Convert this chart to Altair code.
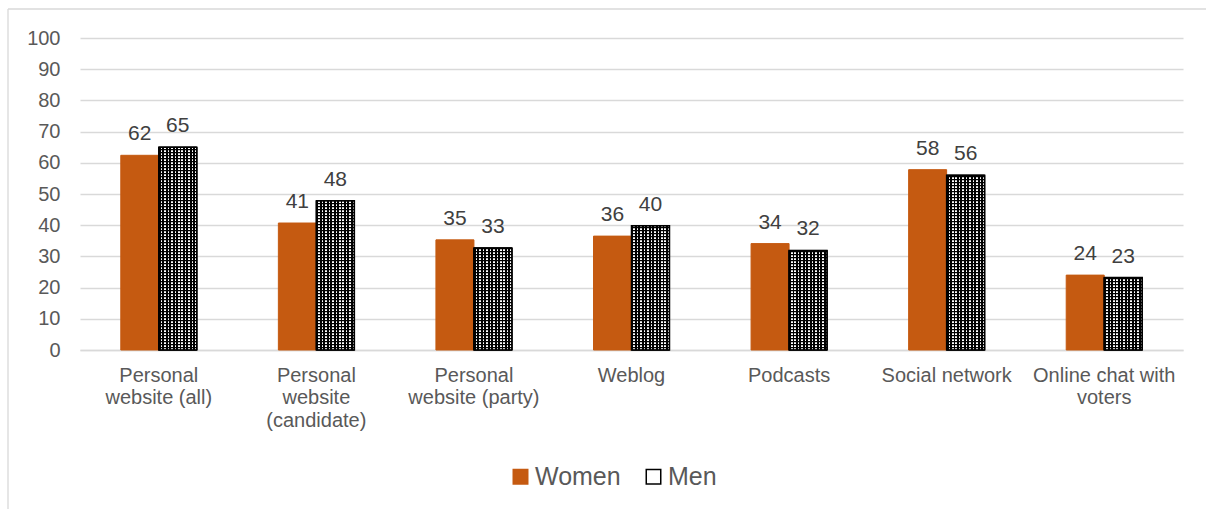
import altair as alt
import pandas as pd

# ---- data ----
categories = [
    "Personal\nwebsite (all)",
    "Personal\nwebsite\n(candidate)",
    "Personal\nwebsite (party)",
    "Weblog",
    "Podcasts",
    "Social network",
    "Online chat with\nvoters",
]
series = ["Women", "Men"]
women = [62.4, 40.7, 35.3, 36.5, 34.1, 57.8, 24.0]
men = [65.0, 47.8, 32.7, 39.8, 31.9, 56.0, 23.2]

ORANGE = "#C55A11"
FONT = "Liberation Sans"

rows = []
for c, w, m in zip(categories, women, men):
    rows.append({"category": c, "series": "Women", "value": w, "label": f"{w:.0f}"})
    rows.append({"category": c, "series": "Men", "value": m, "label": f"{m:.0f}"})
df = pd.DataFrame(rows)

W, H = 1103, 312
PX = H / 100.0  # pixels per unit, used only to space the texture lines

# horizontal black lines that, over white vertical stripes, give the dotted texture of the Men bars
tex = []
for c, m in zip(categories, men):
    k = 0
    while (3 * k + 3) / PX < m:
        tex.append({"category": c, "series": "Men", "lo": (3 * k + 1.7) / PX, "hi": (3 * k + 3) / PX})
        k += 1
tex_df = pd.DataFrame(tex)

y_axis = alt.Axis(
    title=None,
    values=list(range(0, 101, 10)),
    labelFont=FONT,
    labelFontSize=20,
    labelColor="#595959",
    labelPadding=20,
    labelOverlap=False,
    ticks=False,
    tickSize=0,
    domain=False,
    grid=True,
    gridColor="#D9D9D9",
    gridWidth=1.3,
)
x_axis = alt.Axis(
    title=None,
    labelExpr="split(datum.label, '\\n')",
    labelAngle=0,
    labelFont=FONT,
    labelFontSize=20,
    labelColor="#595959",
    labelPadding=15,
    labelLineHeight=22.5,
    labelLimit=0,
    labelOverlap=False,
    ticks=False,
    tickSize=0,
    domain=True,
    domainColor="#D9D9D9",
    domainWidth=1.3,
    labelBaseline="top",
)

x_enc = alt.X(
    "category:N",
    sort=categories,
    scale=alt.Scale(domain=categories, paddingInner=0.5177, paddingOuter=0.2589),
    axis=x_axis,
)
xoff_enc = alt.XOffset(
    "series:N",
    scale=alt.Scale(domain=series, paddingInner=0, paddingOuter=0),
)
y_scale = alt.Scale(domain=[0, 100], nice=False)
y_enc = alt.Y("value:Q", scale=y_scale, axis=y_axis)

base_bars = alt.Chart(df).mark_bar(strokeWidth=1).encode(
    x=x_enc,
    xOffset=xoff_enc,
    y=y_enc,
    fill=alt.Fill(
        "series:N",
        scale=alt.Scale(domain=series, range=[ORANGE, "white"]),
        legend=alt.Legend(title=None),
    ),
    stroke=alt.Stroke(
        "series:N",
        scale=alt.Scale(domain=series, range=[ORANGE, "black"]),
        legend=alt.Legend(title=None),
    ),
)

stops = []
n = 11
for i in range(n):
    a = i / n
    m_ = (i + 0.55) / n
    b = (i + 1) / n
    stops += [
        alt.GradientStop(offset=a, color="black"),
        alt.GradientStop(offset=m_, color="black"),
        alt.GradientStop(offset=m_, color="white"),
        alt.GradientStop(offset=b, color="white"),
    ]

men_bars = (
    alt.Chart(df)
    .transform_filter(alt.datum.series == "Men")
    .mark_bar(
        fill=alt.Gradient(gradient="linear", stops=stops, x1=0, x2=1, y1=0, y2=0),
        stroke="black",
        strokeWidth=1,
    )
    .encode(x=x_enc, xOffset=xoff_enc, y=y_enc)
)

texture = (
    alt.Chart(tex_df)
    .mark_bar(color="black")
    .encode(
        x=x_enc,
        xOffset=xoff_enc,
        y=alt.Y("lo:Q", scale=y_scale, axis=y_axis),
        y2="hi:Q",
    )
)

outline = (
    alt.Chart(df)
    .transform_filter(alt.datum.series == "Men")
    .mark_bar(fillOpacity=0, stroke="black", strokeWidth=1.5)
    .encode(x=x_enc, xOffset=xoff_enc, y=y_enc)
)

labels = alt.Chart(df).mark_text(
    baseline="alphabetic", dy=-15, font=FONT, fontSize=21, color="#404040"
).encode(x=x_enc, xOffset=xoff_enc, y=y_enc, text="label:N")

border_top = alt.Chart(alt.Data(values=[{}])).mark_rule(color="#D9D9D9", strokeWidth=1.3).encode(
    x=alt.value(-72), x2=alt.value(1130), y=alt.value(-29)
)
border_left = alt.Chart(alt.Data(values=[{}])).mark_rule(color="#D9D9D9", strokeWidth=1.3).encode(
    x=alt.value(-72), y=alt.value(-29), y2=alt.value(475)
)

chart = (
    alt.layer(base_bars, men_bars, texture, outline, labels, border_top, border_left)
    .properties(
        width=W,
        height=H,
        autosize=alt.AutoSizeParams(type="none"),
        padding={"left": 80, "top": 38, "right": 23, "bottom": 159},
        background="white",
    )
    .configure_view(strokeWidth=0)
    .configure_legend(
        orient="none",
        legendX=428,
        legendY=426,
        direction="horizontal",
        symbolType="square",
        symbolSize=210,
        symbolStrokeWidth=1.5,
        labelFont=FONT,
        labelFontSize=25,
        labelColor="#595959",
        labelOffset=2,
        columnPadding=20,
    )
)

chart.save("out.html", embed_options={"renderer": "svg", "actions": False})
